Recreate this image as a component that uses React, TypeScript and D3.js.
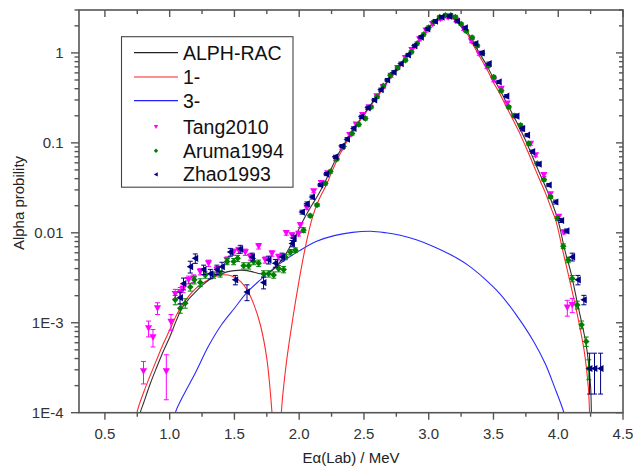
import React from 'react';
import * as d3 from 'd3';

const W = 633;
const H = 468;

const xTickValues = [0.5, 1.0, 1.5, 2.0, 2.5, 3.0, 3.5, 4.0, 4.5];
const xTickLabels = ['0.5', '1.0', '1.5', '2.0', '2.5', '3.0', '3.5', '4.0', '4.5'];
const yTickValues = [1e-4, 1e-3, 0.01, 0.1, 1];
const yTickLabels = ['1E-4', '1E-3', '0.01', '0.1', '1'];

const legendLabels = ['ALPH-RAC', '1-', '3-', 'Tang2010', 'Aruma1994', 'Zhao1993'];

// ALPH-RAC total
const alphRac: [number, number][] = [
  [0.76, 7e-5], [0.773, 1e-4], [0.8, 1.3e-4], [0.85, 2.1e-4], [0.9, 3.2e-4], [0.95, 4.8e-4],
  [1.0, 6.9e-4], [1.05, 1.05e-3], [1.1, 1.5e-3], [1.15, 1.85e-3], [1.2, 2.2e-3], [1.25, 2.6e-3],
  [1.3, 2.97e-3], [1.35, 3.3e-3], [1.4, 3.5e-3], [1.45, 3.7e-3], [1.5, 3.8e-3], [1.55, 3.85e-3],
  [1.6, 3.8e-3], [1.65, 3.65e-3], [1.7, 3.5e-3], [1.75, 3.55e-3], [1.8, 3.9e-3], [1.85, 4.7e-3],
  [1.9, 5.9e-3], [1.95, 8.0e-3], [2.0, 0.0112], [2.05, 0.0155], [2.1, 0.0205], [2.15, 0.027],
  [2.2, 0.037], [2.25, 0.0525], [2.3, 0.0741], [2.35, 0.0977], [2.4, 0.129], [2.45, 0.166],
  [2.5, 0.209], [2.55, 0.263], [2.6, 0.331], [2.65, 0.417], [2.7, 0.531], [2.75, 0.646],
  [2.8, 0.794], [2.85, 0.989], [2.9, 1.23], [2.95, 1.53], [3.0, 1.91], [3.05, 2.29],
  [3.1, 2.51], [3.15, 2.63], [3.2, 2.4], [3.25, 2.09], [3.3, 1.7], [3.35, 1.26], [3.4, 0.95],
  [3.45, 0.72], [3.5, 0.52], [3.55, 0.39], [3.6, 0.28], [3.65, 0.205], [3.7, 0.148],
  [3.75, 0.105], [3.8, 0.071], [3.85, 0.048], [3.9, 0.033], [3.95, 0.022], [4.0, 0.0135],
  [4.05, 6.5e-3], [4.1, 3.5e-3], [4.15, 1.6e-3], [4.2, 7.5e-4], [4.225, 4.6e-4], [4.25, 1.94e-4],
  [4.256, 1e-4], [4.262, 5e-5],
];

// 1- component
const wave1: [number, number][] = [
  [0.73, 6e-5], [0.747, 1e-4], [0.8, 1.7e-4], [0.85, 2.6e-4], [0.9, 3.9e-4], [0.95, 5.8e-4],
  [1.0, 8.3e-4], [1.05, 1.2e-3], [1.1, 1.6e-3], [1.15, 2.0e-3], [1.2, 2.4e-3], [1.25, 2.75e-3],
  [1.3, 3.0e-3], [1.35, 3.25e-3], [1.4, 3.4e-3], [1.45, 3.4e-3], [1.5, 3.2e-3], [1.55, 2.85e-3],
  [1.6, 2.3e-3], [1.65, 1.6e-3], [1.7, 9.5e-4], [1.75, 4e-4], [1.79, 1e-4], [1.81, 3e-5],
  [1.83, 8e-6], [1.845, 2e-5], [1.862, 1e-4], [1.9, 3.5e-4], [1.95, 1.1e-3], [2.0, 3.0e-3],
  [2.05, 7.2e-3], [2.1, 0.0145], [2.15, 0.023], [2.215, 0.0354], [2.25, 0.047], [2.3, 0.068],
  [2.35, 0.093], [2.4, 0.124], [2.45, 0.16], [2.5, 0.203], [2.55, 0.255], [2.6, 0.322],
  [2.65, 0.405], [2.7, 0.515], [2.75, 0.627], [2.8, 0.77], [2.85, 0.96], [2.9, 1.19],
  [2.95, 1.49], [3.0, 1.86], [3.05, 2.23], [3.1, 2.46], [3.15, 2.58], [3.2, 2.33],
  [3.25, 2.0], [3.3, 1.6], [3.35, 1.18], [3.4, 0.88], [3.45, 0.66], [3.5, 0.47], [3.55, 0.35],
  [3.6, 0.25], [3.65, 0.182], [3.7, 0.13], [3.75, 0.09], [3.8, 0.061], [3.85, 0.041],
  [3.9, 0.028], [3.95, 0.018], [3.98, 0.0139], [4.04, 5.9e-3], [4.1, 2.5e-3], [4.16, 1e-3],
  [4.203, 4.6e-4], [4.232, 1.94e-4], [4.242, 1e-4], [4.25, 5e-5],
];

// 3- component
const wave3: [number, number][] = [
  [1.02, 6e-5], [1.044, 1e-4], [1.1, 1.5e-4], [1.2, 2.8e-4], [1.3, 5.5e-4], [1.4, 9.5e-4],
  [1.5, 1.45e-3], [1.6, 2.2e-3], [1.7, 3.0e-3], [1.8, 4.0e-3], [1.9, 5.1e-3], [2.0, 6.3e-3],
  [2.13, 8.0e-3], [2.27, 9.3e-3], [2.41, 0.0101], [2.55, 0.0104], [2.67, 0.0100], [2.78, 9.4e-3],
  [2.91, 8.3e-3], [3.04, 7.0e-3], [3.17, 5.7e-3], [3.3, 4.4e-3], [3.43, 3.1e-3], [3.55, 2.1e-3],
  [3.68, 1.2e-3], [3.81, 6.2e-4], [3.9, 3.5e-4], [3.97, 1.95e-4], [4.044, 1e-4], [4.07, 7e-5],
];

// [energy, probability, relative error]
const tang2010: [number, number, number][] = [
  [0.798, 2.9e-4, 0.28], [0.837, 8.7e-4, 0.2], [0.871, 6.9e-4, 0.22], [0.906, 1.45e-3, 0.15],
  [0.974, 2.9e-4, 0.52], [1.01, 1.03e-3, 0.2], [1.043, 2.1e-3, 0.12], [1.082, 2.2e-3, 0.12],
  [1.103, 2.4e-3, 0.1], [1.146, 3.0e-3, 0.1], [1.185, 3.1e-3, 0.1], [1.236, 3.7e-3, 0.08],
  [1.3, 4.6e-3, 0.08], [1.365, 3.9e-3, 0.08], [1.443, 5.0e-3, 0.08], [1.494, 6.1e-3, 0.08],
  [1.533, 6.4e-3, 0.08], [1.584, 6.1e-3, 0.08], [1.623, 5.4e-3, 0.08], [1.687, 7.1e-3, 0.07],
  [1.738, 5.0e-3, 0.08], [1.79, 5.9e-3, 0.07], [1.841, 5.4e-3, 0.07], [1.9, 0.01, 0.06],
  [1.945, 9.4e-3, 0.06], [1.996, 9.8e-3, 0.06], [2.009, 0.0122, 0.06], [2.06, 0.019, 0.04],
  [2.112, 0.029, 0.04], [2.17, 0.036, 0.04], [2.22, 0.046, 0.04], [2.28, 0.066, 0.04],
  [2.33, 0.088, 0.04], [2.39, 0.123, 0.04], [2.44, 0.16, 0.04], [2.49, 0.205, 0.04],
  [2.54, 0.25, 0.04], [2.6, 0.33, 0.04], [2.65, 0.42, 0.04], [2.71, 0.56, 0.04],
  [2.76, 0.68, 0.04], [2.82, 0.88, 0.04], [2.87, 1.08, 0.04], [2.93, 1.42, 0.04],
  [2.98, 1.78, 0.04], [3.03, 2.1, 0.04], [3.09, 2.4, 0.04], [3.15, 2.5, 0.04],
  [3.21, 2.3, 0.04], [3.27, 1.85, 0.04], [3.33, 1.35, 0.04], [3.39, 0.98, 0.04],
  [3.45, 0.7, 0.04], [3.502, 0.497, 0.04], [3.56, 0.4, 0.04], [3.606, 0.274, 0.04],
  [3.66, 0.2, 0.04], [3.72, 0.14, 0.04], [3.786, 0.098, 0.04], [3.825, 0.073, 0.04],
  [3.889, 0.044, 0.04], [3.94, 0.027, 0.04], [4.004, 0.0151, 0.05], [4.043, 0.0102, 0.05],
  [4.07, 1.48e-3, 0.2], [4.108, 1.58e-3, 0.18],
];

const aruma1994: [number, number, number][] = [
  [1.043, 1.8e-3, 0.12], [1.082, 1.45e-3, 0.12], [1.12, 1.65e-3, 0.12], [1.159, 2.5e-3, 0.1],
  [1.19, 3.0e-3, 0.1], [1.236, 2.8e-3, 0.1], [1.275, 3.4e-3, 0.08], [1.339, 3.4e-3, 0.08],
  [1.39, 3.5e-3, 0.08], [1.443, 4.8e-3, 0.08], [1.494, 4.8e-3, 0.08], [1.525, 5.2e-3, 0.08],
  [1.571, 4.3e-3, 0.08], [1.61, 4.3e-3, 0.08], [1.648, 4.8e-3, 0.08], [1.687, 4.6e-3, 0.08],
  [1.725, 3.5e-3, 0.08], [1.764, 3.5e-3, 0.08], [1.803, 3.4e-3, 0.08], [1.841, 4.0e-3, 0.08],
  [1.88, 3.9e-3, 0.08], [1.893, 5.4e-3, 0.07], [1.932, 6.1e-3, 0.07], [1.971, 6.4e-3, 0.06],
  [2.034, 0.0107, 0.06], [2.085, 0.0155, 0.04], [2.138, 0.0204, 0.04], [2.202, 0.0354, 0.04],
  [2.241, 0.048, 0.04], [2.29, 0.066, 0.04], [2.343, 0.091, 0.04], [2.408, 0.127, 0.04],
  [2.46, 0.16, 0.04], [2.511, 0.187, 0.04], [2.555, 0.25, 0.04], [2.601, 0.325, 0.04],
  [2.65, 0.43, 0.04], [2.704, 0.565, 0.04], [2.76, 0.68, 0.04], [2.82, 0.83, 0.04],
  [2.865, 1.02, 0.04], [2.91, 1.27, 0.04], [2.96, 1.6, 0.04], [3.0, 1.92, 0.04],
  [3.039, 2.21, 0.04], [3.085, 2.5, 0.04], [3.13, 2.62, 0.04], [3.17, 2.62, 0.04],
  [3.206, 2.51, 0.04], [3.25, 2.1, 0.04], [3.29, 1.75, 0.04], [3.335, 1.48, 0.04],
  [3.375, 1.2, 0.04], [3.413, 0.985, 0.04], [3.46, 0.72, 0.04], [3.502, 0.54, 0.04],
  [3.56, 0.38, 0.04], [3.618, 0.25, 0.04], [3.66, 0.2, 0.04], [3.709, 0.157, 0.04],
  [3.773, 0.098, 0.04], [3.838, 0.059, 0.04], [3.89, 0.039, 0.04], [3.941, 0.025, 0.04],
  [3.995, 0.0145, 0.05], [4.039, 7.1e-3, 0.06], [4.077, 5.0e-3, 0.07], [4.108, 3.1e-3, 0.08],
  [4.147, 1.58e-3, 0.1], [4.18, 9.5e-4, 0.1], [4.216, 6.2e-4, 0.12], [4.236, 3.1e-4, 0.25],
];

const zhao1993: [number, number, number][] = [
  [1.08, 1.9e-3, 0.15], [1.107, 2.73e-3, 0.15], [1.159, 4.2e-3, 0.15], [1.198, 5.2e-3, 0.12],
  [1.262, 3.9e-3, 0.12], [1.314, 3.5e-3, 0.12], [1.365, 3.9e-3, 0.12], [1.404, 4.2e-3, 0.12],
  [1.468, 6.1e-3, 0.1], [1.507, 3.0e-3, 0.12], [1.545, 6.6e-3, 0.1], [1.597, 2.2e-3, 0.2],
  [1.636, 5.4e-3, 0.1], [1.725, 2.8e-3, 0.15], [1.764, 5.0e-3, 0.1], [1.816, 4.6e-3, 0.1],
  [1.868, 5.4e-3, 0.1], [1.945, 7.6e-3, 0.08], [1.958, 8.7e-3, 0.08], [2.022, 0.017, 0.05],
  [2.06, 0.021, 0.05], [2.1, 0.025, 0.05], [2.163, 0.034, 0.04], [2.21, 0.045, 0.04],
  [2.28, 0.07, 0.04], [2.33, 0.092, 0.04], [2.37, 0.11, 0.04], [2.42, 0.145, 0.04],
  [2.48, 0.195, 0.04], [2.53, 0.245, 0.04], [2.58, 0.3, 0.04], [2.63, 0.39, 0.04],
  [2.68, 0.5, 0.04], [2.73, 0.61, 0.04], [2.785, 0.76, 0.04], [2.84, 0.95, 0.04],
  [2.89, 1.2, 0.04], [2.94, 1.5, 0.04], [2.99, 1.85, 0.04], [3.05, 2.25, 0.04],
  [3.1, 2.5, 0.04], [3.16, 2.55, 0.04], [3.22, 2.25, 0.04], [3.28, 1.9, 0.04],
  [3.361, 1.27, 0.04], [3.41, 1.0, 0.04], [3.464, 0.76, 0.04], [3.541, 0.476, 0.04],
  [3.6, 0.33, 0.04], [3.678, 0.198, 0.04], [3.722, 0.144, 0.04], [3.76, 0.122, 0.04],
  [3.8, 0.08, 0.04], [3.85, 0.058, 0.04], [3.927, 0.034, 0.04], [3.979, 0.022, 0.05],
  [4.023, 0.0137, 0.05], [4.064, 0.0105, 0.05], [4.108, 5.4e-3, 0.1], [4.152, 3.0e-3, 0.12],
  [4.198, 1.8e-3, 0.12], [4.242, 3.1e-4, 0.48], [4.28, 3.1e-4, 0.48], [4.327, 3.1e-4, 0.48],
];

const FONT = '"Liberation Sans", Arial, sans-serif';
const AXIS = '#555555';

const left = 79, right = 623, top = 10, bottom = 412.7;

export default function App() {
  const x = d3.scaleLinear().domain([0.3, 4.5]).range([left, right]);
  const y = d3.scaleLog().domain([1e-4, 3]).range([bottom, top]);

  const line = d3
    .line<[number, number]>()
    .x((d) => x(d[0]))
    .y((d) => y(d[1]))
    .curve(d3.curveCatmullRom.alpha(0.5));

  const xMinor = d3.range(0.75, 4.5, 0.5);
  const yMinor: number[] = [];
  for (let e = -4; e <= 0; e++) {
    for (let m = 2; m <= 9; m++) {
      const v = m * Math.pow(10, e);
      if (v <= 3) yMinor.push(v);
    }
  }

  const errBars = (data: [number, number, number][], color: string) =>
    data.map((d, i) => {
      const cx = x(d[0]);
      const yHi = y(d[1] * (1 + d[2]));
      const yLo = y(Math.max(d[1] * (1 - d[2]), 1e-5));
      return (
        <g key={i} stroke={color} strokeWidth={1}>
          <line x1={cx} x2={cx} y1={yHi} y2={yLo} />
          <line x1={cx - 2.5} x2={cx + 2.5} y1={yHi} y2={yHi} />
          <line x1={cx - 2.5} x2={cx + 2.5} y1={yLo} y2={yLo} />
        </g>
      );
    });

  const triDown = (cx: number, cy: number, s = 3.6) =>
    `M${cx - s},${cy - s * 0.8}L${cx + s},${cy - s * 0.8}L${cx},${cy + s}Z`;
  const triLeft = (cx: number, cy: number, s = 3.6) =>
    `M${cx - s},${cy}L${cx + s * 0.8},${cy - s}L${cx + s * 0.8},${cy + s}Z`;
  const diamond = (cx: number, cy: number, s = 3.3) =>
    `M${cx},${cy - s}L${cx + s},${cy}L${cx},${cy + s}L${cx - s},${cy}Z`;

  const legendRows = [52.7, 77, 100.7, 126.7, 150.7, 174.4];
  const lineColors = ['#222222', '#ff2020', '#2020ff'];

  return (
    <svg
      width={W}
      height={H}
      style={{ position: 'absolute', left: 0, top: 0, background: '#fff' }}
      fontFamily={FONT}
    >
      <defs>
        <clipPath id="plotClip">
          <rect x={left} y={top} width={right - left} height={bottom - top} />
        </clipPath>
      </defs>
      <rect x={0} y={0} width={W} height={H} fill="#fff" />

      <g clipPath="url(#plotClip)" fill="none" strokeWidth={1.1}>
        <path d={line(wave3) || ''} stroke="#2a2aff" />
        <path d={line(wave1) || ''} stroke="#ff2a2a" />
        <path d={line(alphRac) || ''} stroke="#333333" />
      </g>

      <g clipPath="url(#plotClip)">
        {errBars(tang2010, '#ff00ff')}
        {tang2010.map((d, i) => (
          <path key={i} d={triDown(x(d[0]), y(d[1]))} fill="#ff00ff" />
        ))}
        {errBars(aruma1994, '#008000')}
        {aruma1994.map((d, i) => (
          <path key={i} d={diamond(x(d[0]), y(d[1]))} fill="#008000" />
        ))}
        {errBars(zhao1993, '#000080')}
        {zhao1993.map((d, i) => (
          <path key={i} d={triLeft(x(d[0]), y(d[1]))} fill="#000080" />
        ))}
      </g>

      {/* frame */}
      <rect x={left} y={top} width={right - left} height={bottom - top} fill="none" stroke={AXIS} strokeWidth={1.6} />

      {/* ticks */}
      <g stroke={AXIS} strokeWidth={1.4}>
        {xTickValues.map((v, i) => (
          <g key={i}>
            <line x1={x(v)} x2={x(v)} y1={bottom} y2={bottom + 7} />
            <line x1={x(v)} x2={x(v)} y1={top} y2={top + 7} />
          </g>
        ))}
        {xMinor.map((v, i) => (
          <g key={i}>
            <line x1={x(v)} x2={x(v)} y1={bottom} y2={bottom + 4} />
            <line x1={x(v)} x2={x(v)} y1={top} y2={top + 4} />
          </g>
        ))}
        {yTickValues.map((v, i) => (
          <g key={i}>
            <line x1={left - 8} x2={left} y1={y(v)} y2={y(v)} />
            <line x1={right - 7} x2={right} y1={y(v)} y2={y(v)} />
          </g>
        ))}
        {yMinor.map((v, i) => (
          <g key={i}>
            <line x1={left - 4.5} x2={left} y1={y(v)} y2={y(v)} />
            <line x1={right - 4} x2={right} y1={y(v)} y2={y(v)} />
          </g>
        ))}
      </g>

      <g fontSize={15} fill="#333">
        {xTickValues.map((v, i) => (
          <text key={i} x={x(v)} y={438.5} textAnchor="middle">
            {xTickLabels[i]}
          </text>
        ))}
        {yTickValues.map((v, i) => (
          <text key={i} x={63.5} y={y(v) + 5.3} textAnchor="end">
            {yTickLabels[i]}
          </text>
        ))}
      </g>

      <text x={(left + right) / 2} y={463} textAnchor="middle" fontSize={15} fill="#222">
        Eα(Lab) / MeV
      </text>
      <text
        transform={`translate(23.5, ${203}) rotate(-90)`}
        textAnchor="middle"
        fontSize={15}
        fill="#222"
      >
        Alpha probility
      </text>

      {/* legend */}
      <rect x={121.5} y={36.7} width={171.5} height={150.5} fill="#fff" stroke="#444" strokeWidth={1.1} />
      {lineColors.map((c, i) => (
        <line key={i} x1={134} x2={178} y1={legendRows[i]} y2={legendRows[i]} stroke={c} strokeWidth={1.2} />
      ))}
      <path d={triDown(156, legendRows[3], 2.2)} fill="#ff00ff" />
      <path d={diamond(156, legendRows[4], 2.2)} fill="#008000" />
      <path d={triLeft(156, legendRows[5], 2.2)} fill="#000080" />
      <g fontSize={19.5} fill="#111">
        {legendLabels.map((t, i) => (
          <text key={i} x={183} y={legendRows[i] + 7}>
            {t}
          </text>
        ))}
      </g>
    </svg>
  );
}
